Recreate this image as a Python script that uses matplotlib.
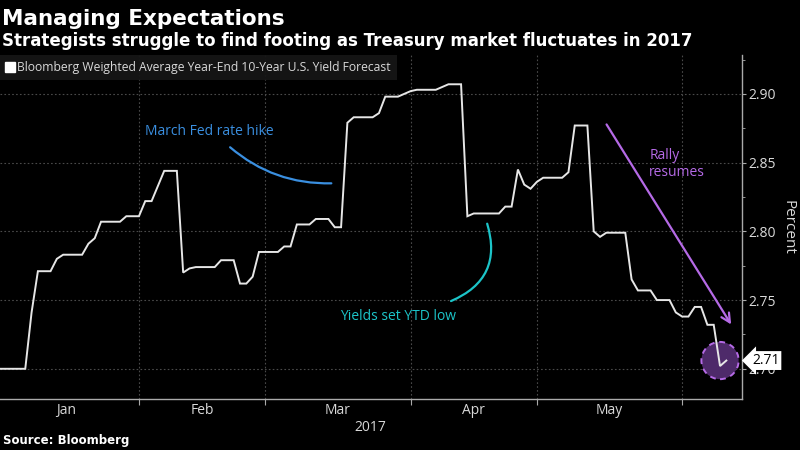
import numpy as np
import matplotlib
matplotlib.use("Agg")
import matplotlib.pyplot as plt
import matplotlib.transforms as mtransforms
from matplotlib.lines import Line2D

# ── Data ────────────────────────────────────────────────────────────
START = "2017-01-02"

dates = [
    "2017-01-02", "2017-01-06", "2017-01-09", "2017-01-10", "2017-01-12",
    "2017-01-13", "2017-01-16", "2017-01-19", "2017-01-20", "2017-01-23",
    "2017-01-24", "2017-01-27", "2017-01-30", "2017-02-01", "2017-02-02",
    "2017-02-03", "2017-02-07", "2017-02-09", "2017-02-10", "2017-02-13",
    "2017-02-14", "2017-02-17", "2017-02-20", "2017-02-22", "2017-02-23",
    "2017-02-24", "2017-02-27", "2017-02-28", "2017-03-03", "2017-03-06",
    "2017-03-07", "2017-03-08", "2017-03-10", "2017-03-13", "2017-03-15",
    "2017-03-16", "2017-03-17", "2017-03-20", "2017-03-21", "2017-03-24",
    "2017-03-27", "2017-03-28", "2017-03-30", "2017-03-31", "2017-04-03",
    "2017-04-04", "2017-04-07", "2017-04-11", "2017-04-13", "2017-04-14",
    "2017-04-17", "2017-04-21", "2017-04-24", "2017-04-25", "2017-04-26",
    "2017-04-27", "2017-04-28", "2017-05-01", "2017-05-02", "2017-05-05",
    "2017-05-08", "2017-05-09", "2017-05-11", "2017-05-12", "2017-05-15",
    "2017-05-16", "2017-05-19", "2017-05-22", "2017-05-23", "2017-05-25",
    "2017-05-26", "2017-05-30", "2017-05-31", "2017-06-01", "2017-06-02",
    "2017-06-05", "2017-06-06", "2017-06-07", "2017-06-08", "2017-06-09",
    "2017-06-12",
]
yields = [
    2.700, 2.700, 2.741, 2.771, 2.771,
    2.780, 2.783, 2.783, 2.791, 2.795,
    2.807, 2.807, 2.811, 2.811, 2.822,
    2.822, 2.844, 2.844, 2.770, 2.773,
    2.774, 2.774, 2.779, 2.779, 2.762,
    2.762, 2.767, 2.785, 2.785, 2.789,
    2.789, 2.805, 2.805, 2.809, 2.809,
    2.803, 2.803, 2.879, 2.883, 2.883,
    2.886, 2.898, 2.898, 2.900, 2.902,
    2.903, 2.903, 2.907, 2.907, 2.811,
    2.813, 2.813, 2.818, 2.818, 2.845,
    2.834, 2.831, 2.836, 2.839, 2.839,
    2.843, 2.877, 2.877, 2.800, 2.796,
    2.799, 2.799, 2.765, 2.757, 2.757,
    2.750, 2.750, 2.741, 2.738, 2.738,
    2.745, 2.745, 2.732, 2.732, 2.702,
    2.706,
]

month_starts = ["2017-01-01", "2017-02-01", "2017-03-01",
                "2017-04-01", "2017-05-01", "2017-06-01"]
month_labels = ["Jan", "Feb", "Mar", "Apr", "May"]
y_ticks = [2.70, 2.75, 2.80, 2.85, 2.90]
last_label = "2.71"

BG = "#000000"
LINE = "#e6e6e6"
GRID = "#4a4a4a"
TXT = "#d9d9d9"
BLUE = "#3a8fe0"
CYAN = "#1cc4c8"
PURPLE = "#b56ae6"
SANS = ["Open Sans", "DejaVu Sans"]
BOLD = ["DejaVu Sans"]
XLIM = (0, 117.4)
YLIM = (2.6778, 2.9283)

plt.rcParams.update({
    "font.family": SANS,
    "axes.unicode_minus": False,
})

# business-day positions, like the Bloomberg axis
x = np.busday_count(START, np.array(dates, dtype="datetime64[D]")).astype(float)
mpos = np.busday_count(START, np.array(month_starts, dtype="datetime64[D]")).astype(float)
mmid = (mpos[:-1] + mpos[1:]) / 2.0

fig = plt.figure(figsize=(8, 4.5), dpi=100, facecolor=BG)
ax = fig.add_axes([0, 1 - 399.3 / 450, 741.5 / 800, (399.3 - 55) / 450])
ax.set_facecolor(BG)

ax.plot(x, yields, color=LINE, lw=1.4, zorder=4, solid_joinstyle="miter")

# right-hand axis
ax.yaxis.tick_right()
ax.yaxis.set_label_position("right")
ax.set_yticks(y_ticks)
ax.set_yticklabels(["%.2f" % v for v in y_ticks])
ax.set_yticks([v + 0.025 for v in y_ticks], minor=True)
ax.set_ylabel("Percent", color=TXT, fontsize=11, rotation=270,
              labelpad=14)

ax.set_xticks(mpos)
ax.set_xticklabels([])
ax.set_xticks(mmid, minor=True)
ax.set_xticklabels(month_labels, minor=True)
ax.set_xlabel("2017", color=TXT, fontsize=10, labelpad=1)

ax.tick_params(axis="both", which="both", colors="#aaaaaa",
               labelcolor=TXT, labelsize=10, direction="out")
ax.tick_params(axis="y", which="major", length=3, pad=2)
ax.tick_params(axis="y", which="minor", length=2)
ax.tick_params(axis="x", which="major", length=4)
ax.tick_params(axis="x", which="minor", length=0, pad=3)

for side in ("left", "top"):
    ax.spines[side].set_visible(False)
for side in ("right", "bottom"):
    ax.spines[side].set_color("#aaaaaa")
    ax.spines[side].set_linewidth(1.0)

ax.grid(True, which="major", color=GRID, linestyle=(0, (1.5, 2)), lw=0.8)
ax.set_axisbelow(True)

# legend box
leg = ax.legend(
    handles=[Line2D([], [], marker="s", color="white", lw=0, markersize=7)],
    labels=["Bloomberg Weighted Average Year-End 10-Year U.S. Yield Forecast"],
    loc="upper left", bbox_to_anchor=(0, 1), borderaxespad=0,
    frameon=True, fancybox=False, facecolor="#161616", edgecolor="none",
    framealpha=0.95, fontsize=8.7, handlelength=0.6, handletextpad=0.3,
    borderpad=0.5)
for t in leg.get_texts():
    t.set_color(TXT)

# annotations
ax.text(23.0, 2.873, "March Fed rate hike", color=BLUE, fontsize=10,
        va="center", ha="left")
ax.annotate("", xy=(52.9, 2.835), xytext=(36.1, 2.8625),
            arrowprops=dict(arrowstyle="-", color=BLUE, lw=1.6,
                            connectionstyle="arc3,rad=0.2"))

ax.text(53.9, 2.738, "Yields set YTD low", color=CYAN, fontsize=10,
        va="center", ha="left")
ax.annotate("", xy=(77.0, 2.8075), xytext=(71.0, 2.7485),
            arrowprops=dict(arrowstyle="-", color=CYAN, lw=1.6,
                            connectionstyle="arc3,rad=0.47"))

ax.text(102.8, 2.849, "Rally\nresumes", color=PURPLE, fontsize=10,
        va="center", ha="left", linespacing=1.1)
ax.annotate("", xy=(116.0, 2.7305), xytext=(95.8, 2.8795),
            arrowprops=dict(arrowstyle="->", color=PURPLE, lw=1.6,
                            mutation_scale=16))

# highlight of the latest print
ax.scatter([x[-2]], [yields[-1]], s=720, facecolor="#4e2a6a",
           edgecolor=PURPLE, linewidths=1.4, linestyle=(0, (3, 2.5)),
           zorder=3)

blend = mtransforms.blended_transform_factory(ax.transAxes, ax.transData)
ax.text(1.014, yields[-1], last_label, transform=blend, color="black",
        fontsize=10, va="center", ha="left", zorder=6, clip_on=False,
        bbox=dict(boxstyle="larrow,pad=0.14", fc="white", ec="none"))

ax.set_xlim(*XLIM)
ax.set_ylim(*YLIM)

# titles and source
fig.text(0.003, 1 - 25 / 450, "Managing Expectations", color="white",
         fontsize=15.5, fontweight="bold", family=BOLD, va="baseline")
fig.text(0.003, 1 - 45.7 / 450,
         "Strategists struggle to find footing as Treasury market fluctuates in 2017",
         color="white", fontsize=12.0, fontweight="bold", family=BOLD,
         va="baseline")
fig.text(0.004, 1 - 444 / 450, "Source: Bloomberg", color="white",
         fontsize=8.5, fontweight="bold", family=BOLD, va="baseline")

fig.savefig("out.png", dpi=100, facecolor=BG)
